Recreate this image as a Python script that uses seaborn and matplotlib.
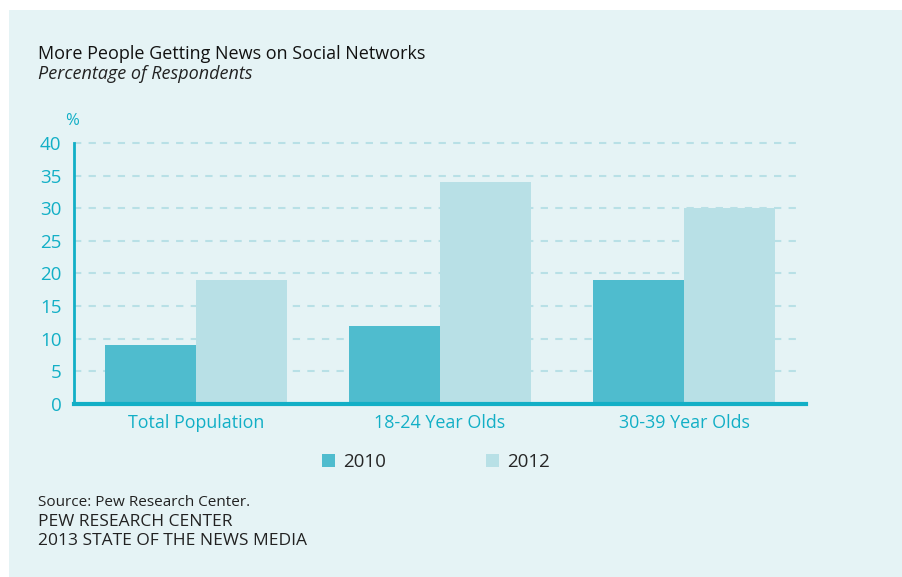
import numpy as np
import pandas as pd
import seaborn as sns
import matplotlib.pyplot as plt
from matplotlib.patches import Rectangle

# data
groups = ['Total Population', '18-24 Year Olds', '30-39 Year Olds']
years = ['2010', '2012']
pct_2010 = [9, 12, 19]
pct_2012 = [19, 34, 30]

df = pd.DataFrame({
    'group': groups * 2,
    'year': [years[0]] * 3 + [years[1]] * 3,
    'pct': pct_2010 + pct_2012,
})

teal = '#12AFC6'
bg = '#E5F3F5'
colors = {'2010': '#4FBCCE', '2012': '#B8E0E6'}

sns.set_style('white')
plt.rcParams['font.family'] = ['Open Sans', 'DejaVu Sans']

fig = plt.figure(figsize=(9.03, 5.77), dpi=100)
fig.patch.set_facecolor('white')
# light panel behind everything
fig.patches.append(Rectangle((9 / 903, 0), 1, 1 - 10 / 577, transform=fig.transFigure,
                             facecolor=bg, edgecolor='none', zorder=-10))

ax = fig.add_axes([74 / 903, 1 - 404 / 577, (806 - 74) / 903, (404 - 143) / 577])
ax.set_facecolor('none')

sns.barplot(data=df, x='group', y='pct', hue='year', palette=colors, width=0.744,
            saturation=1, linewidth=0, edgecolor='none', ax=ax, zorder=3)

ax.set_xlim(-0.5, 2.5)
ax.set_ylim(0, 40)
ax.set_yticks(np.arange(0, 41, 5))
for y in np.arange(5, 41, 5):
    ax.plot([-0.5, 2.48], [y, y], color='#B8E0E6', lw=1.5, dashes=(3.5, 3.5), zorder=1,
            clip_on=False)

for s in ['top', 'right']:
    ax.spines[s].set_visible(False)
ax.spines['left'].set_color(teal)
ax.spines['left'].set_linewidth(2)
ax.spines['bottom'].set_color(teal)
ax.spines['bottom'].set_linewidth(3)
ax.spines['left'].set_zorder(5)
ax.spines['bottom'].set_zorder(5)

ax.tick_params(axis='y', colors=teal, length=6, width=2, labelsize=13.5, pad=3)
ax.tick_params(axis='x', colors=teal, length=0, labelsize=12.9, pad=7)
for lab in ax.get_xticklabels() + ax.get_yticklabels():
    lab.set_fontweight(500)
ax.set_xlabel('')
ax.set_ylabel('')
ax.text(-0.003, 1.085, '%', transform=ax.transAxes, color=teal, fontsize=12, ha='center', va='center')

# legend
handles, labels = ax.get_legend_handles_labels()
ax.get_legend().remove()
fig.legend(handles, labels, loc='center left', bbox_to_anchor=(305 / 903, 1 - 462 / 577),
           ncol=2, frameon=False, fontsize=13.5, handlelength=0.7, handleheight=0.7,
           handletextpad=0.45, columnspacing=5.3)

# titles
fig.text(38 / 903, 1 - 54 / 577, 'More People Getting News on Social Networks',
         fontsize=13, fontweight=500, color='#111111', va='center')
fig.text(38 / 903, 1 - 74 / 577, 'Percentage of Respondents', fontsize=13,
         style='italic', color='#222222', va='center')

# footer
fig.text(38 / 903, 1 - 502 / 577, 'Source: Pew Research Center.', fontsize=11, color='#222222', va='center')
fig.text(38 / 903, 1 - 522 / 577, 'PEW RESEARCH CENTER', fontsize=12.5, color='#222222', va='center')
fig.text(38 / 903, 1 - 541 / 577, '2013 STATE OF THE NEWS MEDIA', fontsize=12.5, color='#222222', va='center')

fig.savefig('out.png', dpi=100, facecolor=fig.get_facecolor())
